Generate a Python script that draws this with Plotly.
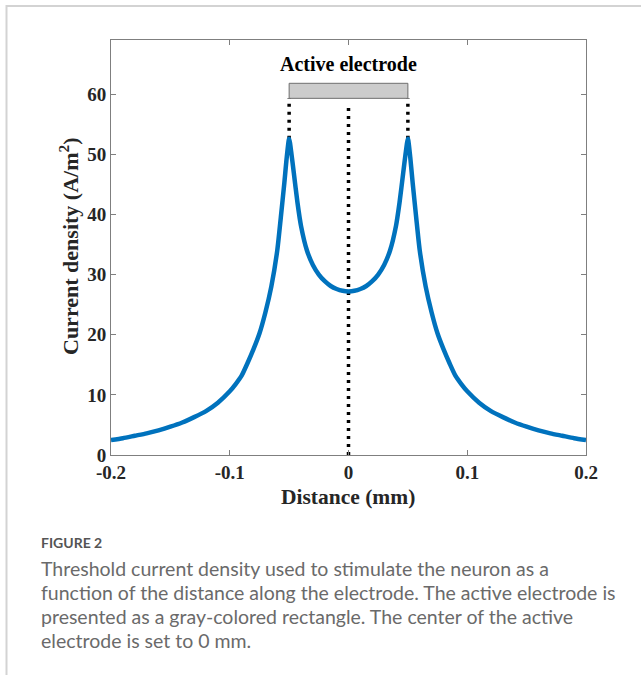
import plotly.graph_objects as go

# ---- data ----
distance_mm = [-0.2, -0.19, -0.18, -0.17, -0.16, -0.15, -0.14, -0.13, -0.12, -0.11,
               -0.10, -0.095, -0.09, -0.085, -0.08, -0.075, -0.07, -0.065, -0.06, -0.057,
               -0.054, -0.052, -0.05, -0.048, -0.046, -0.043, -0.04, -0.035, -0.03, -0.025,
               -0.02, -0.015, -0.01, -0.005, 0.0,
               0.005, 0.01, 0.015, 0.02, 0.025, 0.03, 0.035, 0.04, 0.043, 0.046,
               0.048, 0.05, 0.052, 0.054, 0.057, 0.06, 0.065, 0.07, 0.075, 0.08,
               0.085, 0.09, 0.095, 0.10, 0.11, 0.12, 0.13, 0.14, 0.15, 0.16,
               0.17, 0.18, 0.19, 0.2]
current_density = [2.5, 2.8, 3.2, 3.6, 4.1, 4.7, 5.4, 6.3, 7.3, 8.7,
                   10.6, 11.8, 13.2, 15.3, 17.6, 20.2, 23.7, 28.0, 34.0, 39.5,
                   45.3, 49.5, 52.6, 50.0, 46.8, 42.0, 38.1, 34.0, 31.6, 30.0,
                   28.9, 28.1, 27.6, 27.3, 27.2,
                   27.3, 27.6, 28.1, 28.9, 30.0, 31.6, 34.0, 38.1, 42.0, 46.8,
                   50.0, 52.6, 49.5, 45.3, 39.5, 34.0, 28.0, 23.7, 20.2, 17.6,
                   15.3, 13.2, 11.8, 10.6, 8.7, 7.3, 6.3, 5.4, 4.7, 4.1,
                   3.6, 3.2, 2.8, 2.5]
electrode_edges = [-0.05, 0.05]
electrode_center = 0.0
electrode_bottom = 59.3
electrode_top = 61.8
peak_value = 52.6
center_line_top = 58.4
x_ticks = [-0.2, -0.1, 0, 0.1, 0.2]
x_tick_labels = ["-0.2", "-0.1", "0", "0.1", "0.2"]
y_ticks = [0, 10, 20, 30, 40, 50, 60]
y_tick_labels = ["0", "10", "20", "30", "40", "50", "60"]
caption_label = "FIGURE 2"
caption_lines = [
    "Threshold current density used to stimulate the neuron as a",
    "function of the distance along the electrode. The active electrode is",
    "presented as a gray-colored rectangle. The center of the active",
    "electrode is set to 0 mm.",
]

# ---- layout constants (pixels) ----
W, H = 641, 675
L, R, T, B = 111, 55, 40, 220
PW, PH = W - L - R, H - T - B


def px(x):
    return (x - L) / PW


def py(y):
    return (H - B - y) / PH


SERIF = "Liberation Serif"
SANS = "Lato"
AX_COLOR = "#7f7f7f"
TXT = "#262626"

fig = go.Figure()

dot_style = dict(color="black", width=3.5, dash="3px,5px")
# dotted guides
for xe in electrode_edges:
    fig.add_trace(go.Scatter(x=[xe, xe], y=[peak_value, electrode_bottom], mode="lines",
                             line=dot_style, hoverinfo="skip", showlegend=False))
fig.add_trace(go.Scatter(x=[electrode_center, electrode_center], y=[0, center_line_top],
                         mode="lines", line=dot_style, hoverinfo="skip", showlegend=False))

# main curve
fig.add_trace(go.Scatter(x=distance_mm, y=current_density, mode="lines",
                         line=dict(color="#0072BD", width=4.5, shape="spline", smoothing=0.6),
                         showlegend=False))

# electrode rectangle
fig.add_shape(type="rect", xref="x", yref="y",
              x0=electrode_edges[0], x1=electrode_edges[1],
              y0=electrode_bottom, y1=electrode_top,
              fillcolor="#cccccc", line=dict(color="#6e6e6e", width=1))

fig.add_annotation(x=electrode_center, y=65.0, xref="x", yref="y", text="<b>Active electrode</b>",
                   showarrow=False, xanchor="center", yanchor="middle",
                   font=dict(family=SERIF, size=20, color="black"))

# axis titles
fig.add_annotation(x=px(69), y=py(246), xref="paper", yref="paper",
                   text="<b>Current density (A/m<sup>2</sup>)</b>", textangle=-90,
                   showarrow=False, xanchor="center", yanchor="middle",
                   font=dict(family=SERIF, size=22, color=TXT))
fig.add_annotation(x=px(348), y=py(497), xref="paper", yref="paper",
                   text="<b>Distance (mm)</b>", showarrow=False,
                   xanchor="center", yanchor="middle",
                   font=dict(family=SERIF, size=21.5, color=TXT))

# card frame
fig.add_shape(type="line", xref="paper", yref="paper", x0=px(6), x1=px(645), y0=py(6), y1=py(6),
              line=dict(color="#d3d3d3", width=2))
fig.add_shape(type="line", xref="paper", yref="paper", x0=px(6.5), x1=px(6.5), y0=py(5), y1=py(680),
              line=dict(color="#d3d3d3", width=2))

# caption
fig.add_annotation(x=px(39), y=py(542.5), xref="paper", yref="paper", text=caption_label,
                   showarrow=False, xanchor="left", yanchor="middle",
                   font=dict(family=SANS, size=14, color="#555555", weight="bold"))
for i, line in enumerate(caption_lines):
    fig.add_annotation(x=px(39), y=py(568 + 24 * i), xref="paper", yref="paper", text=line,
                       showarrow=False, xanchor="left", yanchor="middle",
                       font=dict(family=SANS, size=19.5, color="#6a6a6a"))

axis_common = dict(showgrid=False, zeroline=False, showline=True, linecolor=AX_COLOR, linewidth=1,
                   mirror="ticks", ticks="inside", ticklen=5, tickcolor=AX_COLOR, tickwidth=1,
                   tickfont=dict(family=SERIF, size=19, color=TXT, weight="bold"))
fig.update_xaxes(range=[-0.2, 0.2], tickvals=x_ticks, ticktext=x_tick_labels, **axis_common)
fig.update_yaxes(range=[0, 69], tickvals=y_ticks, ticktext=y_tick_labels, **axis_common)

fig.update_layout(width=W, height=H, margin=dict(l=L, r=R, t=T, b=B, autoexpand=False),
                  paper_bgcolor="white", plot_bgcolor="white", showlegend=False)

fig.write_html("out.html")
